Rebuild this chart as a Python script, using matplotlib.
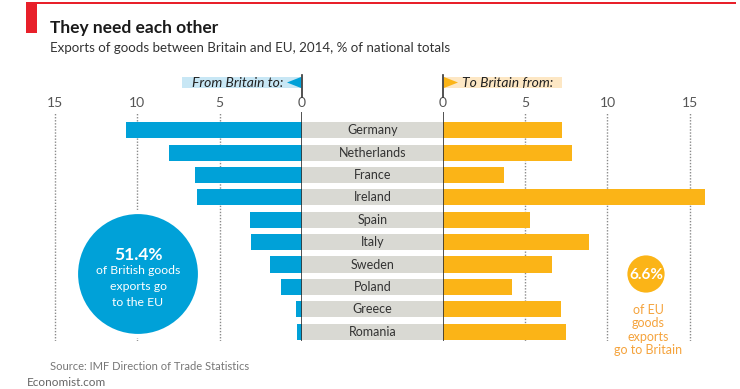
import matplotlib
matplotlib.use("Agg")
import matplotlib.pyplot as plt
from matplotlib.patches import Rectangle, Circle, Polygon

countries = ["Germany", "Netherlands", "France", "Ireland", "Spain",
             "Italy", "Sweden", "Poland", "Greece", "Romania"]
# % of British goods exports going to each country
from_britain = [10.7, 8.05, 6.5, 6.35, 3.15, 3.1, 1.95, 1.3, 0.35, 0.3]
# % of each country's goods exports going to Britain
to_britain = [7.25, 7.85, 3.7, 15.95, 5.3, 8.9, 6.6, 4.2, 7.15, 7.45]
ticks = [0, 5, 10, 15]
uk_share = "51.4%"
eu_share = "6.6%"

BLUE = "#00a1d8"
ORANGE = "#fbb417"
GREY = "#d9d9d3"
RED = "#e8202a"
DARK = "#333333"

plt.rcParams['font.family'] = ['Lato', 'DejaVu Sans']

W, H = 740, 389
fig = plt.figure(figsize=(7.4, 3.89), dpi=100)


def px_axes(x0, x1, y0, y1, **kw):
    return fig.add_axes([x0 / W, 1 - y1 / H, (x1 - x0) / W, (y1 - y0) / H], **kw)


rows = list(range(len(countries)))
ylim = (9.42, -0.82)

ax_l = px_axes(30, 302, 112, 341)
ax_m = px_axes(302, 443, 112, 341)
ax_r = px_axes(443, 730, 112, 341)

for ax, vals, col, xlim in [(ax_l, from_britain, BLUE, (16.51, 0)),
                            (ax_r, to_britain, ORANGE, (0, 17.45))]:
    ax.barh(rows, vals, height=0.72, color=col, zorder=2)
    ax.set_xlim(xlim)
    ax.set_ylim(ylim)
    for t in ticks[1:]:
        ax.axvline(t, color="#8a8a8a", lw=1, ls=(0, (1, 1.2)), zorder=1)
    ax.axvline(0, color=DARK, lw=1.2, zorder=3)
    for s in ax.spines.values():
        s.set_visible(False)
    ax.xaxis.tick_top()
    ax.set_xticks(ticks)
    ax.set_xticklabels([str(t) for t in ticks])
    ax.tick_params(axis="x", length=0, pad=2, labelsize=10, labelcolor="#555555")
    ax.set_yticks([])
    ax.patch.set_visible(False)

ax_m.barh(rows, [1] * len(rows), height=0.72, color=GREY)
ax_m.set_xlim(0, 1)
ax_m.set_ylim(ylim)
for i, c in enumerate(countries):
    ax_m.text(0.5, i, c, ha="center", va="center", fontsize=9, color=DARK)
ax_m.axis("off")

# overlay in pixel coordinates for titles and decorations
ov = fig.add_axes([0, 0, 1, 1], zorder=10)
ov.set_xlim(0, W)
ov.set_ylim(H, 0)
ov.axis("off")

ov.add_patch(Rectangle((26, 2), 710, 1.6, color=RED, lw=0))
ov.add_patch(Rectangle((26, 2), 11, 31, color=RED, lw=0))
ov.text(50, 28, "They need each other", fontsize=12.5, weight="bold",
        color="#1a1a1a", va="center")
ov.text(50, 48, "Exports of goods between Britain and EU, 2014, % of national totals",
        fontsize=9.6, color=DARK, va="center")

# header flags
ov.add_patch(Rectangle((182, 77), 120, 11, color="#c8e7f5", lw=0))
ov.add_patch(Polygon([(287, 82.5), (301, 77), (301, 88)], color=BLUE, lw=0))
ov.plot([302, 302], [75, 97], color=DARK, lw=1.2)
ov.text(283, 82.5, "From Britain to:", ha="right", va="center",
        style="italic", fontsize=10, color="#222222")

ov.add_patch(Rectangle((443, 77), 119, 11, color="#fde7c4", lw=0))
ov.add_patch(Polygon([(444, 77), (444, 88), (458, 82.5)], color=ORANGE, lw=0))
ov.plot([443, 443], [75, 97], color=DARK, lw=1.2)
ov.text(462, 82.5, "To Britain from:", ha="left", va="center",
        style="italic", fontsize=10, color="#222222")

# blue callout
ov.add_patch(Circle((138, 274), 62, facecolor=BLUE, edgecolor="white", lw=3))
ov.text(138, 255, uk_share, ha="center", va="center", color="white",
        fontsize=12.5, weight="bold")
for y, line in zip([271, 286, 302], ["of British goods", "exports go", "to the EU"]):
    ov.text(138, y, line, ha="center", va="center", color="white", fontsize=8.8)

# orange callout
ov.add_patch(Circle((646, 274), 20, facecolor=ORANGE, edgecolor="white", lw=2))
ov.text(646, 275, eu_share, ha="center", va="center", color="white",
        fontsize=11, weight="bold")
for y, line in zip([310, 323, 337, 350], ["of EU", "goods", "exports", "go to Britain"]):
    ov.text(648, y, line, ha="center", va="center", color="#f5a33c", fontsize=9)

ov.text(50, 367, "Source: IMF Direction of Trade Statistics", va="center",
        fontsize=8, color="#777777")
ov.text(27, 382, "Economist.com", va="center", fontsize=8.5, color="#666666")

fig.savefig("out.png", dpi=100, facecolor="white")
